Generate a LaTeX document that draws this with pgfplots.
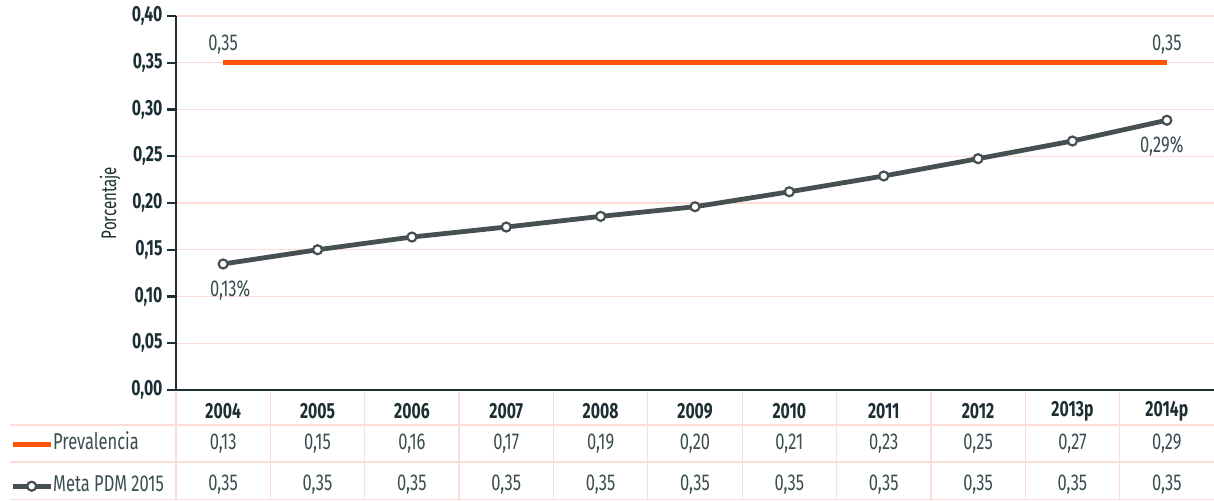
\documentclass[border=0pt]{standalone}
\usepackage{pgfplots}
\pgfplotsset{compat=1.18}
\usepackage{fontspec}
\setmainfont{Fira Sans}[FakeStretch=0.72]

\definecolor{naranja}{HTML}{FF5405}
\definecolor{gris}{HTML}{465052}
\definecolor{ejes}{HTML}{1B2F33}
\definecolor{texto}{HTML}{3A4D50}
\definecolor{rejilla}{HTML}{FCDCD7}

\newcommand{\fuente}{\fontsize{23}{25}\selectfont}

\begin{document}
\begin{tikzpicture}
\begin{axis}[
    scale only axis,
    width=1038bp, height=374bp,
    xmin=-0.5, xmax=10.5,
    ymin=0, ymax=0.4,
    clip=false,
    axis lines=left,
    axis line style={-, ejes, line width=2.8bp},
    xtick={0,...,10},
    xticklabels={2004,2005,2006,2007,2008,2009,2010,2011,2012,2013p,2014p},
    x tick style={draw=none},
    xticklabel style={anchor=center, yshift=-12bp, font=\fontsize{22}{24}\selectfont\bfseries, text=ejes},
    ytick={0,0.05,...,0.4},
    y tick style={ejes, line width=2.2bp},
    tick align=outside,
    major tick length=9bp,
    yticklabel style={font=\fontsize{22}{24}\selectfont\bfseries, text=ejes, xshift=-1bp},
    /pgf/number format/.cd, fixed, fixed zerofill, precision=2, use comma, assume math mode=true,
    /pgfplots/.cd,
    ymajorgrids,
    grid style={rejilla, line width=1.1bp},
    ylabel={Porcentaje},
    ylabel style={at={(axis description cs:-0.0635,0.5)}, anchor=center, font=\fontsize{21}{22}\selectfont, text=ejes},
    legend style={at={(axis description cs:0,0)}, anchor=north west, xshift=-166bp, yshift=-45bp,
        draw=none, fill=none, inner sep=0pt, row sep=24bp,
        font=\fuente, text=texto,
        nodes={inner sep=0pt, text height=14bp, text depth=4bp, xshift=6bp}},
    legend cell align=left,
    legend image code/.code={
        \draw[mark repeat=2, mark phase=2, #1] plot coordinates {(0bp,0bp) (19bp,0bp) (38bp,0bp)};
    },
]

% lineas de la tabla
\draw[rejilla, line width=1.3bp] (axis cs:-2.26,-0.0374) -- (axis cs:10.5,-0.0374);
\draw[rejilla, line width=1.3bp] (axis cs:-2.26,-0.0770) -- (axis cs:10.5,-0.0770);
\draw[rejilla, line width=1.3bp] (axis cs:-2.26,-0.1170) -- (axis cs:10.5,-0.1170);
\pgfplotsinvokeforeach{-0.5,0.5,1.5,2.5,3.5,4.5,5.5,6.5,7.5,8.5,9.5}{
    \draw[rejilla, line width=1.3bp] (axis cs:#1,-0.002) -- (axis cs:#1,-0.1180);
}

\addplot[naranja, line width=5bp] coordinates {
    (0,0.35) (1,0.35) (2,0.35) (3,0.35) (4,0.35) (5,0.35)
    (6,0.35) (7,0.35) (8,0.35) (9,0.35) (10,0.35)
};
\addlegendentry{Prevalencia}

\addplot[gris, line width=4.8bp, mark=*, mark size=4.5bp,
    mark options={fill=white, draw=gris, line width=2.2bp}] coordinates {
    (0,0.1348) (1,0.1500) (2,0.1636) (3,0.1743) (4,0.1857) (5,0.1960)
    (6,0.2120) (7,0.2289) (8,0.2474) (9,0.2663) (10,0.2885)
};
\addlegendentry{Meta PDM 2015}

% etiquetas de datos
\addplot[draw=none, forget plot, nodes near coords, point meta=explicit symbolic,
    nodes near coords style={anchor=center, yshift=18bp, text=texto, font=\fuente}]
    table[meta=l] {
x y l
0 0.35 0,35
10 0.35 0,35
};
\addplot[draw=none, forget plot, nodes near coords, point meta=explicit symbolic,
    nodes near coords style={anchor=center, yshift=-26bp, xshift=7bp, text=texto, font=\fuente}]
    table[meta=l] {
x y l
0 0.1348 0,13\%
};
\addplot[draw=none, forget plot, nodes near coords, point meta=explicit symbolic,
    nodes near coords style={anchor=center, yshift=-26bp, xshift=-5bp, text=texto, font=\fuente}]
    table[meta=l] {
x y l
10 0.2885 0,29\%
};

% filas de la tabla
\addplot[draw=none, forget plot, nodes near coords, point meta=explicit symbolic,
    nodes near coords style={anchor=center, text=texto, font=\fuente}]
    table[meta=l] {
x y l
0 -0.0570 0,13
1 -0.0570 0,15
2 -0.0570 0,16
3 -0.0570 0,17
4 -0.0570 0,19
5 -0.0570 0,20
6 -0.0570 0,21
7 -0.0570 0,23
8 -0.0570 0,25
9 -0.0570 0,27
10 -0.0570 0,29
};
\addplot[draw=none, forget plot, nodes near coords, point meta=explicit symbolic,
    nodes near coords style={anchor=center, text=texto, font=\fuente}]
    table[meta=l] {
x y l
0 -0.1015 0,35
1 -0.1015 0,35
2 -0.1015 0,35
3 -0.1015 0,35
4 -0.1015 0,35
5 -0.1015 0,35
6 -0.1015 0,35
7 -0.1015 0,35
8 -0.1015 0,35
9 -0.1015 0,35
10 -0.1015 0,35
};

\coordinate (O) at (axis cs:-0.5,0);
\end{axis}
\pgfresetboundingbox
\path[use as bounding box] (O) ++(-176bp,-111bp) rectangle ++(1214bp,501bp);
\end{tikzpicture}
\end{document}
